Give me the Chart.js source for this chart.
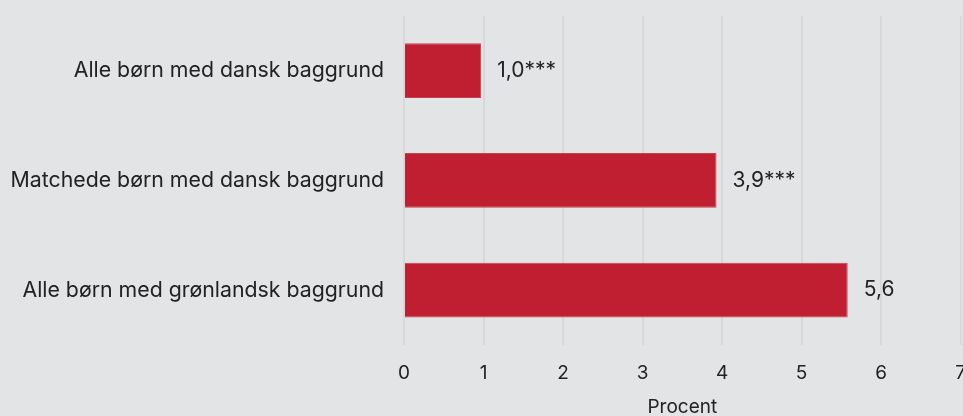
<!DOCTYPE html>
<html>
<head>
<meta charset="utf-8">
<script src="https://cdn.jsdelivr.net/npm/chart.js@4.4.1/dist/chart.umd.min.js"></script>
<style>
  html, body { margin: 0; padding: 0; background: #e3e4e6; overflow: hidden; }
  #wrap { width: 983px; height: 433px; position: relative; margin-top: -17px; }
</style>
</head>
<body>
<div id="wrap"><canvas id="barChart"></canvas></div>
<script>
const categories = [
  "Alle børn med dansk baggrund",
  "Matchede børn med dansk baggrund",
  "Alle børn med grønlandsk baggrund"
];
const values = [0.97, 3.93, 5.58];
const valueLabels = ["1,0***", "3,9***", "5,6"];
const xTicks = [0, 1, 2, 3, 4, 5, 6, 7];

const FONT = "Inter, 'Noto Sans', sans-serif";

// draws the value text to the right of each bar
const barValueLabels = {
  id: "barValueLabels",
  afterDatasetsDraw(chart) {
    const ctx = chart.ctx;
    const meta = chart.getDatasetMeta(0);
    ctx.save();
    ctx.font = "21px " + FONT;
    ctx.fillStyle = "#222";
    ctx.textAlign = "left";
    ctx.textBaseline = "middle";
    meta.data.forEach((bar, i) => {
      ctx.fillText(valueLabels[i], bar.x + 16, bar.y);
    });
    ctx.restore();
  }
};

const ctx = document.getElementById("barChart").getContext("2d");
new Chart(ctx, {
  type: "bar",
  data: {
    labels: categories,
    datasets: [
      {
        data: values,
        backgroundColor: "#c01f32",
        borderColor: "#c8404f",
        borderWidth: 1,
        barPercentage: 1,
        categoryPercentage: 0.5,
      },
    ],
  },
  options: {
    indexAxis: "y",
    responsive: true,
    maintainAspectRatio: false,
    animation: false,
    layout: { padding: 0 },
    plugins: {
      legend: { display: false },
      tooltip: { enabled: false },
    },
    scales: {
      x: {
        min: 0,
        max: 7,
        afterBuildTicks: (scale) => {
          scale.ticks = xTicks.map((v) => ({ value: v }));
        },
        afterFit: (scale) => {
          scale.height = 71;
        },
        grid: {
          color: "#d6d8da",
          lineWidth: 2,
          drawTicks: false,
        },
        border: { display: false },
        ticks: {
          padding: 17,
          color: "#222",
          font: { family: FONT, size: 19 },
        },
        title: {
          display: true,
          text: "Procent",
          color: "#222",
          font: { family: FONT, size: 19 },
          padding: { top: 0, bottom: -3 },
        },
      },
      y: {
        afterFit: (scale) => {
          scale.width = 404;
        },
        grid: { display: false, drawTicks: false },
        border: { display: false },
        ticks: {
          padding: 20,
          color: "#222",
          font: { family: FONT, size: 21.3 },
        },
      },
    },
  },
  plugins: [barValueLabels],
});
</script>
</body>
</html>
